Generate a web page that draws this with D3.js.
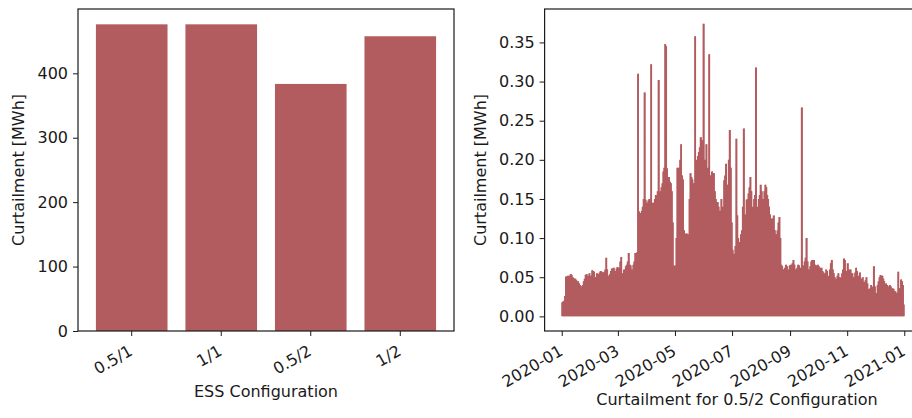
<!DOCTYPE html>
<html>
<head>
<meta charset="utf-8">
<script src="https://cdn.jsdelivr.net/npm/d3@7"></script>
<style>
  html, body { margin: 0; padding: 0; background: #fff; }
  svg { display: block; font-family: "DejaVu Sans", sans-serif; }
  text { fill: #1a1a1a; }
</style>
</head>
<body>
<svg id="chart" width="912" height="418"></svg>
<script>
// ESS configurations and yearly curtailment totals (MWh)
const configs = ["0.5/1", "1/1", "0.5/2", "1/2"];
const totalCurtailment = [476, 476, 383.5, 457.5];
const leftTicks = [0, 100, 200, 300, 400];

// Daily peak curtailment for the 0.5/2 configuration (MWh), 2020-01-01 .. 2020-12-31
const seriesStart = "2020-01-01";
const janPeaks = [0.018,0.019,0.02,0.026,0.051,0.05,0.052,0.043,0.052,0.054,0.053,0.05,0.049,0.047,0.048,0.046,0.044,0.045,0.042,0.04,0.038,0.038,0.04,0.045,0.048,0.053,0.054,0.046,0.052,0.055,0.05];
const febPeaks = [0.052,0.059,0.058,0.057,0.05,0.048,0.055,0.054,0.05,0.056,0.058,0.057,0.056,0.052,0.057,0.06,0.075,0.06,0.052,0.05,0.054,0.058,0.061,0.06,0.062,0.055,0.058,0.061,0.063];
const marPeaks = [0.06,0.062,0.07,0.076,0.05,0.055,0.06,0.058,0.064,0.066,0.07,0.081,0.066,0.065,0.06,0.058,0.066,0.07,0.081,0.08,0.082,0.31,0.134,0.132,0.13,0.135,0.14,0.15,0.286,0.149,0.145];
const aprPeaks = [0.12,0.148,0.15,0.14,0.322,0.14,0.145,0.135,0.15,0.155,0.145,0.16,0.302,0.156,0.16,0.165,0.17,0.185,0.19,0.348,0.345,0.189,0.175,0.178,0.172,0.17,0.16,0.12,0.064,0.065];
const mayPeaks = [0.064,0.1,0.19,0.19,0.186,0.2,0.22,0.18,0.175,0.11,0.106,0.105,0.106,0.104,0.105,0.15,0.183,0.178,0.175,0.165,0.17,0.358,0.196,0.2,0.205,0.21,0.216,0.229,0.225,0.2,0.374];
const junPeaks = [0.16,0.2,0.22,0.185,0.19,0.335,0.18,0.17,0.185,0.183,0.183,0.16,0.15,0.146,0.146,0.14,0.129,0.135,0.15,0.125,0.14,0.174,0.18,0.195,0.168,0.16,0.2,0.238,0.19,0.12];
const julPeaks = [0.085,0.079,0.08,0.09,0.227,0.129,0.1,0.094,0.095,0.105,0.11,0.14,0.24,0.12,0.13,0.149,0.15,0.157,0.165,0.178,0.16,0.125,0.14,0.15,0.155,0.318,0.08,0.14,0.15,0.155,0.168];
const augPeaks = [0.16,0.09,0.15,0.16,0.168,0.165,0.155,0.15,0.14,0.13,0.125,0.12,0.125,0.129,0.11,0.105,0.1,0.11,0.12,0.127,0.1,0.066,0.064,0.06,0.058,0.062,0.066,0.064,0.058,0.06,0.065];
const sepPeaks = [0.066,0.064,0.068,0.072,0.066,0.06,0.058,0.062,0.066,0.065,0.06,0.062,0.267,0.06,0.065,0.07,0.075,0.1,0.07,0.06,0.058,0.064,0.07,0.072,0.07,0.072,0.066,0.065,0.062,0.066];
const octPeaks = [0.064,0.062,0.06,0.062,0.058,0.056,0.053,0.055,0.06,0.058,0.05,0.052,0.06,0.068,0.072,0.06,0.055,0.05,0.046,0.048,0.052,0.055,0.05,0.045,0.05,0.055,0.06,0.074,0.072,0.055,0.058];
const novPeaks = [0.068,0.06,0.055,0.06,0.052,0.055,0.05,0.048,0.056,0.062,0.058,0.05,0.052,0.056,0.048,0.045,0.05,0.044,0.04,0.046,0.05,0.042,0.035,0.03,0.036,0.04,0.032,0.038,0.064,0.038];
const decPeaks = [0.03,0.028,0.04,0.045,0.05,0.053,0.05,0.052,0.048,0.045,0.04,0.042,0.04,0.038,0.036,0.04,0.038,0.035,0.036,0.035,0.03,0.032,0.025,0.03,0.057,0.036,0.03,0.047,0.045,0.04,0.015];
const dailyPeaks = [].concat(janPeaks, febPeaks, marPeaks, aprPeaks, mayPeaks, junPeaks,
                             julPeaks, augPeaks, sepPeaks, octPeaks, novPeaks, decPeaks);
const rightTicks = [0, 0.05, 0.10, 0.15, 0.20, 0.25, 0.30, 0.35];
const dateTickLabels = ["2020-01", "2020-03", "2020-05", "2020-07", "2020-09", "2020-11", "2021-01"];

const barColor = "#b35c5f";
const ink = "#1a1a1a";
const FONT = 16;

const svg = d3.select("#chart");

// rotated, right-aligned tick labels hanging below the axis
function slantLabels(axisGroup) {
  axisGroup.selectAll(".tick text")
    .attr("text-anchor", "end")
    .attr("y", 0)
    .attr("dy", "0.74em")
    .attr("transform", "translate(-4,13) rotate(-30)");
}

function styleAxis(a) {
  a.select(".domain").remove();
  a.selectAll(".tick line").attr("stroke", ink).attr("stroke-width", 1);
  a.selectAll(".tick text").attr("font-size", FONT).attr("font-family", "DejaVu Sans").attr("fill", ink);
}

// ---------- Left panel: totals per configuration ----------
const L = { left: 78, right: 454, top: 9, bottom: 331 };
const xL = d3.scaleBand().domain(configs).range([L.left, L.right])
  .paddingInner(0.2).paddingOuter(0.2);
const yL = d3.scaleLinear().domain([0, d3.max(totalCurtailment) * 1.05]).range([L.bottom, L.top]);

const gL = svg.append("g");
gL.selectAll("rect.bar").data(configs).join("rect")
  .attr("class", "bar")
  .attr("x", d => xL(d))
  .attr("width", xL.bandwidth())
  .attr("y", (d, i) => yL(totalCurtailment[i]))
  .attr("height", (d, i) => yL(0) - yL(totalCurtailment[i]))
  .attr("fill", barColor);

const axL = gL.append("g").attr("transform", `translate(${L.left},0)`)
  .call(d3.axisLeft(yL).tickValues(leftTicks).tickSize(5).tickPadding(5).tickFormat(d3.format("d")));
const axLB = gL.append("g").attr("transform", `translate(0,${L.bottom})`)
  .call(d3.axisBottom(xL).tickSize(5).tickPadding(5));
styleAxis(axL);
styleAxis(axLB);
slantLabels(axLB);

gL.append("rect")
  .attr("x", L.left).attr("y", L.top)
  .attr("width", L.right - L.left).attr("height", L.bottom - L.top)
  .attr("fill", "none").attr("stroke", ink).attr("stroke-width", 1.2);

gL.append("text")
  .attr("transform", `translate(24,${(L.top + L.bottom) / 2}) rotate(-90)`)
  .attr("text-anchor", "middle").attr("font-size", FONT)
  .text("Curtailment [MWh]");
gL.append("text")
  .attr("x", (L.left + L.right) / 2).attr("y", 397)
  .attr("text-anchor", "middle").attr("font-size", FONT)
  .text("ESS Configuration");

// ---------- Right panel: daily curtailment over the year ----------
const R = { left: 544.6, right: 921.4, top: 9, bottom: 331 };
const parseDay = d3.utcParse("%Y-%m-%d");
const t0 = parseDay(seriesStart);
const dayAt = (i, frac) => d3.utcHour.offset(d3.utcDay.offset(t0, i), frac * 24);
const tEnd = dayAt(dailyPeaks.length, 0);
const pad = (tEnd - t0) * 0.05;
const xR = d3.scaleUtc().domain([new Date(+t0 - pad), new Date(+tEnd + pad)]).range([R.left, R.right]);
const yMax = d3.max(dailyPeaks);
const yR = d3.scaleLinear().domain([-0.05 * yMax, yMax * 1.05]).range([R.bottom, R.top]);

svg.append("clipPath").attr("id", "clipR")
  .append("rect").attr("x", 0).attr("y", 0).attr("width", 912).attr("height", 418);

const gR = svg.append("g").attr("clip-path", "url(#clipR)");

// one vertical stroke per day, from zero up to that day's peak
const pathData = dailyPeaks.map((v, i) => {
  const x = xR(dayAt(i, 0.5));
  return `M${x},${yR(0)}V${yR(v)}`;
}).join("");
gR.append("path")
  .attr("d", pathData)
  .attr("fill", "none")
  .attr("stroke", barColor)
  .attr("stroke-width", 1.9);

// stepped fill under the daily peaks so the strokes read as one area
gR.append("path")
  .datum(dailyPeaks)
  .attr("fill", barColor)
  .attr("d", d3.area()
    .x((v, i) => xR(dayAt(i, 0.5)))
    .y0(yR(0))
    .y1(v => yR(v))
    .curve(d3.curveStepAfter));

const tickDates = dateTickLabels.map(s => d3.utcParse("%Y-%m")(s));
const axR = gR.append("g").attr("transform", `translate(${R.left},0)`)
  .call(d3.axisLeft(yR).tickValues(rightTicks).tickSize(5).tickPadding(5).tickFormat(d3.format(".2f")));
const axRB = gR.append("g").attr("transform", `translate(0,${R.bottom})`)
  .call(d3.axisBottom(xR).tickValues(tickDates).tickSize(5).tickPadding(5).tickFormat(d3.utcFormat("%Y-%m")));
styleAxis(axR);
styleAxis(axRB);
slantLabels(axRB);

gR.append("rect")
  .attr("x", R.left).attr("y", R.top)
  .attr("width", R.right - R.left).attr("height", R.bottom - R.top)
  .attr("fill", "none").attr("stroke", ink).attr("stroke-width", 1.2);

gR.append("text")
  .attr("transform", `translate(486,${(R.top + R.bottom) / 2}) rotate(-90)`)
  .attr("text-anchor", "middle").attr("font-size", FONT)
  .text("Curtailment [MWh]");
gR.append("text")
  .attr("x", 737).attr("y", 405)
  .attr("text-anchor", "middle").attr("font-size", FONT)
  .text("Curtailment for 0.5/2 Configuration");
</script>
</body>
</html>
